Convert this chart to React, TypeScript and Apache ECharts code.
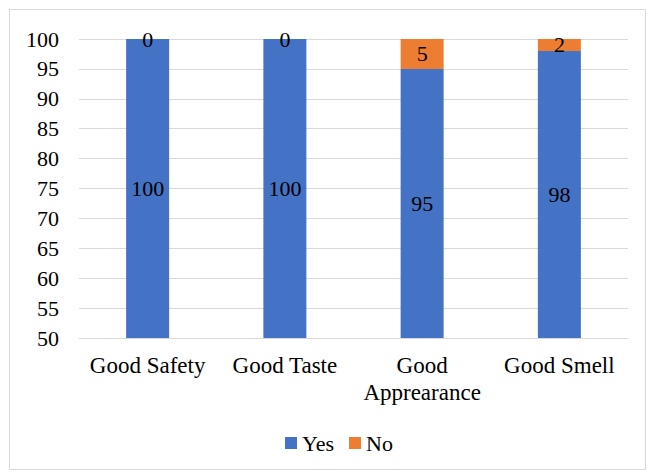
import React, { useEffect, useRef } from "react";
import * as echarts from "echarts";

const categories = ["Good Safety", "Good Taste", "Good\nApprearance", "Good Smell"];
const yesValues = [100, 100, 95, 98];
const noValues = [0, 0, 5, 2];
const seriesNames = ["Yes", "No"];

const FONT = "Liberation Serif";

export default function App() {
  const ref = useRef<HTMLDivElement>(null);
  useEffect(() => {
    if (!ref.current) return;
    const chart = echarts.init(ref.current, null, { renderer: "svg" });
    chart.setOption({
      animation: false,
      textStyle: { fontFamily: FONT },
      graphic: [
        {
          type: "rect",
          shape: { x: 9.5, y: 9.5, width: 636, height: 460 },
          style: { fill: "none", stroke: "#d9d9d9", lineWidth: 1 },
          silent: true,
        },
      ],
      grid: { left: 79, right: 23, top: 39, bottom: 135, containLabel: false },
      legend: {
        data: seriesNames,
        top: 427,
        left: 280,
        itemWidth: 12,
        itemHeight: 12,
        itemGap: 15,
        icon: "rect",
        textStyle: { fontFamily: FONT, fontSize: 22, color: "#000" },
      },
      xAxis: {
        type: "category",
        data: categories,
        axisTick: { show: false },
        axisLine: { lineStyle: { color: "#d9d9d9", width: 1 } },
        axisLabel: {
          fontFamily: FONT,
          fontSize: 23,
          color: "#000",
          margin: 14,
          lineHeight: 27,
          interval: 0,
        },
      },
      yAxis: {
        type: "value",
        min: 50,
        max: 100,
        interval: 5,
        axisLine: { show: false },
        axisTick: { show: false },
        splitLine: { lineStyle: { color: "#d9d9d9", width: 1 } },
        axisLabel: { fontFamily: FONT, fontSize: 22, color: "#000", margin: 20 },
      },
      series: [
        {
          name: seriesNames[0],
          type: "bar",
          stack: "total",
          data: yesValues,
          barWidth: 43,
          itemStyle: { color: "#4472C4" },
          label: {
            show: true,
            position: "inside",
            fontFamily: FONT,
            fontSize: 22,
            color: "#000",
          },
        },
        {
          name: seriesNames[1],
          type: "bar",
          stack: "total",
          data: noValues,
          barWidth: 43,
          itemStyle: { color: "#ED7D31" },
          label: {
            show: true,
            position: "inside",
            fontFamily: FONT,
            fontSize: 22,
            color: "#000",
            formatter: (p: any) => String(p.value),
          },
        },
      ],
    });
    return () => chart.dispose();
  }, []);
  return (
    <div
      ref={ref}
      style={{ position: "fixed", left: 0, top: 0, width: 651, height: 473, background: "#fff" }}
    />
  );
}
